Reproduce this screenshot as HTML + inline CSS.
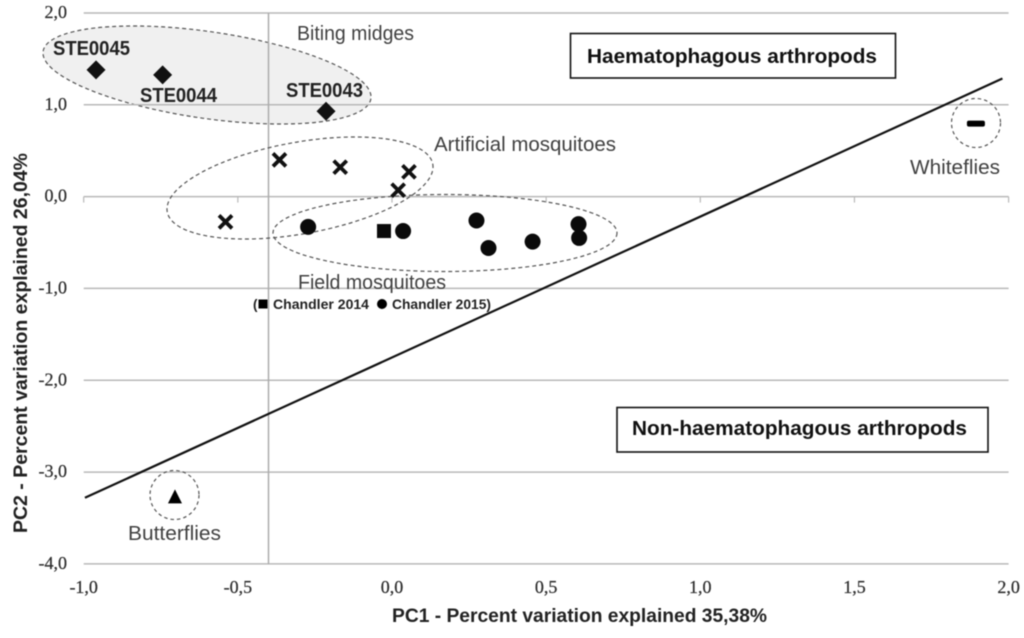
<!DOCTYPE html>
<html lang="en">
<head>
<meta charset="utf-8">
<title>PCA of arthropods</title>
<style>
html,body{margin:0;padding:0;background:#fff;width:1024px;height:638px;overflow:hidden}
svg{display:block;filter:blur(0.45px)}
text{font-family:"Liberation Sans",sans-serif}
.tick{font-family:"Liberation Serif",serif;font-size:18px;fill:#2e2e2e;stroke:#2e2e2e;stroke-width:0.25px}
.lab{font-size:20.5px;fill:#404040}
.ste{font-size:20px;font-weight:bold;fill:#222}
.ttl{font-size:19.5px;font-weight:bold;fill:#222}
.box{font-size:20.5px;font-weight:bold;fill:#111}
.ch{font-size:13.5px;font-weight:bold;fill:#222}
</style>
</head>
<body>
<svg id="chart" xmlns="http://www.w3.org/2000/svg" width="1024" height="638" viewBox="0 0 1024 638">
  <ellipse cx="207" cy="75" rx="165.6" ry="43.4" transform="rotate(8.2 207 75)" fill="#f0f0f0" stroke="#555" stroke-width="1.2" stroke-dasharray="4 3"/>
  <g id="grid"></g>
  <line x1="268.5" y1="13" x2="268.5" y2="564" stroke="#ababab" stroke-width="1.5"/>
  <ellipse cx="300" cy="188" rx="134.9" ry="45.8" transform="rotate(-10.2 300 188)" fill="none" stroke="#555" stroke-width="1.2" stroke-dasharray="4 3"/>
  <ellipse cx="445" cy="233" rx="172" ry="38.5" fill="none" stroke="#555" stroke-width="1.2" stroke-dasharray="4 3"/>
  <circle cx="174.5" cy="495" r="24.5" fill="none" stroke="#555" stroke-width="1.2" stroke-dasharray="3.5 3"/>
  <circle cx="976" cy="123" r="24.5" fill="none" stroke="#555" stroke-width="1.2" stroke-dasharray="3.5 3"/>
  <g id="trend"></g>
  <g id="marks"></g>
  <g id="ticks"></g>

  <text class="ttl" transform="translate(27 533) rotate(-90)" textLength="380" lengthAdjust="spacingAndGlyphs">PC2 - Percent variation explained 26,04%</text>
  <text class="ttl" x="392" y="622" textLength="375" lengthAdjust="spacingAndGlyphs">PC1 - Percent variation explained 35,38%</text>

  <text class="lab" x="297" y="40" textLength="117" lengthAdjust="spacingAndGlyphs">Biting midges</text>
  <text class="lab" x="434" y="151" textLength="182" lengthAdjust="spacingAndGlyphs">Artificial mosquitoes</text>
  <text class="lab" x="298" y="289" textLength="148" lengthAdjust="spacingAndGlyphs">Field mosquitoes</text>
  <text class="lab" x="910" y="174" textLength="90" lengthAdjust="spacingAndGlyphs">Whiteflies</text>
  <text class="lab" x="128" y="540" textLength="93" lengthAdjust="spacingAndGlyphs">Butterflies</text>

  <text class="ste" x="53" y="55" textLength="77" lengthAdjust="spacingAndGlyphs">STE0045</text>
  <text class="ste" x="140" y="102" textLength="77" lengthAdjust="spacingAndGlyphs">STE0044</text>
  <text class="ste" x="286" y="97" textLength="77" lengthAdjust="spacingAndGlyphs">STE0043</text>

  <g>
    <text class="ch" x="253" y="309">(</text>
    <rect x="258.5" y="299.5" width="9" height="9" fill="#000"/>
    <text class="ch" x="273" y="309" textLength="96" lengthAdjust="spacingAndGlyphs">Chandler 2014</text>
    <circle cx="382" cy="304" r="5" fill="#000"/>
    <text class="ch" x="392" y="309" textLength="99" lengthAdjust="spacingAndGlyphs">Chandler 2015)</text>
  </g>

  <g>
    <rect x="570.5" y="33.5" width="325" height="44.5" fill="#fff" stroke="#111" stroke-width="1.6"/>
    <text class="box" x="587" y="63" textLength="290" lengthAdjust="spacingAndGlyphs">Haematophagous arthropods</text>
  </g>
  <g>
    <rect x="617" y="407.5" width="371" height="44.5" fill="#fff" stroke="#111" stroke-width="1.6"/>
    <text class="box" x="632" y="435" textLength="335" lengthAdjust="spacingAndGlyphs">Non-haematophagous arthropods</text>
  </g>
</svg>

<script>
var xTicks = [-1, -0.5, 0, 0.5, 1, 1.5, 2];
var yTicks = [2, 1, 0, -1, -2, -3, -4];
var xTickLabels = ["-1,0", "-0,5", "0,0", "0,5", "1,0", "1,5", "2,0"];
var yTickLabels = ["2,0", "1,0", "0,0", "-1,0", "-2,0", "-3,0", "-4,0"];

var bitingX = [-0.96, -0.744, -0.214];
var bitingY = [1.38, 1.325, 0.93];
var artificialX = [-0.365, -0.168, 0.055, 0.02, -0.54];
var artificialY = [0.40, 0.32, 0.27, 0.07, -0.275];
var field2015X = [-0.272, 0.036, 0.274, 0.313, 0.456, 0.605, 0.607];
var field2015Y = [-0.33, -0.375, -0.26, -0.56, -0.49, -0.30, -0.45];
var field2014X = [-0.026];
var field2014Y = [-0.375];
var butterflyX = [-0.704];
var butterflyY = [-3.27];
var whiteflyX = [1.894];
var whiteflyY = [0.795];
var boundaryX = [-0.996, 1.98];
var boundaryY = [-3.28, 1.286];

var NS = "http://www.w3.org/2000/svg";
function sx(v) { return 392 + v * 308.3; }
function sy(v) { return 196.6 - v * 91.83; }
function make(tag, parent) {
  var n = document.createElementNS(NS, tag);
  document.getElementById(parent).appendChild(n);
  return n;
}

yTicks.forEach(function (t, i) {
  var l = make("line", "grid");
  
  
  l.setAttribute("x1", sx(-1));
  l.setAttribute("x2", sx(2));
  l.setAttribute("y1", sy(t));
  l.setAttribute("y2", sy(t));
  l.setAttribute("stroke", "#b8b8b8");
  l.setAttribute("stroke-width", "1.5");
  var lab = make("text", "ticks");
  
  
  lab.setAttribute("class", "tick");
  lab.setAttribute("x", 67);
  lab.setAttribute("y", sy(t) + 5);
  lab.setAttribute("text-anchor", "end");
  lab.textContent = yTickLabels[i];
});

xTicks.forEach(function (t, i) {
  var l = make("line", "grid");
  
  
  l.setAttribute("x1", sx(t));
  l.setAttribute("x2", sx(t));
  l.setAttribute("y1", sy(0));
  l.setAttribute("y2", sy(0) + 6);
  l.setAttribute("stroke", "#b8b8b8");
  l.setAttribute("stroke-width", "1.2");
  var lab = make("text", "ticks");
  
  
  lab.setAttribute("class", "tick");
  lab.setAttribute("x", sx(t));
  lab.setAttribute("y", 593);
  lab.setAttribute("text-anchor", "middle");
  lab.textContent = xTickLabels[i];
});

var bl = make("line", "trend");


bl.setAttribute("x1", sx(boundaryX[0]));
bl.setAttribute("y1", sy(boundaryY[0]));
bl.setAttribute("x2", sx(boundaryX[1]));
bl.setAttribute("y2", sy(boundaryY[1]));
bl.setAttribute("stroke", "#111");
bl.setAttribute("stroke-width", "2.2");

bitingX.forEach(function (v, i) {
  var p = make("polygon", "marks");
  
  
  var x = sx(v), y = sy(bitingY[i]);
  p.setAttribute("points", x + "," + (y - 9.5) + " " + (x + 9.5) + "," + y + " " + x + "," + (y + 9.5) + " " + (x - 9.5) + "," + y);
  p.setAttribute("fill", "#111");
});

artificialX.forEach(function (v, i) {
  var p = make("path", "marks");
  
  
  var x = sx(v), y = sy(artificialY[i]), s = 6.5;
  p.setAttribute("d", "M" + (x - s) + " " + (y - s) + "L" + (x + s) + " " + (y + s) + "M" + (x - s) + " " + (y + s) + "L" + (x + s) + " " + (y - s));
  p.setAttribute("stroke", "#111");
  p.setAttribute("stroke-width", "3.8");
  p.setAttribute("fill", "none");
});

field2015X.forEach(function (v, i) {
  var c = make("circle", "marks");
  
  
  c.setAttribute("cx", sx(v));
  c.setAttribute("cy", sy(field2015Y[i]));
  c.setAttribute("r", 8);
  c.setAttribute("fill", "#0a0a0a");
});

field2014X.forEach(function (v, i) {
  var r = make("rect", "marks");
  
  
  r.setAttribute("x", sx(v) - 7);
  r.setAttribute("y", sy(field2014Y[i]) - 7);
  r.setAttribute("width", 14);
  r.setAttribute("height", 14);
  r.setAttribute("fill", "#0a0a0a");
});

butterflyX.forEach(function (v, i) {
  var p = make("polygon", "marks");
  
  
  var x = sx(v), y = sy(butterflyY[i]);
  p.setAttribute("points", x + "," + (y - 7.5) + " " + (x + 7) + "," + (y + 6.5) + " " + (x - 7) + "," + (y + 6.5));
  p.setAttribute("fill", "#000");
});

whiteflyX.forEach(function (v, i) {
  var r = make("rect", "marks");
  
  
  r.setAttribute("x", sx(v) - 9);
  r.setAttribute("y", sy(whiteflyY[i]) - 3);
  r.setAttribute("width", 18);
  r.setAttribute("height", 6);
  r.setAttribute("rx", 2);
  r.setAttribute("fill", "#000");
});
</script>
</body>
</html>
